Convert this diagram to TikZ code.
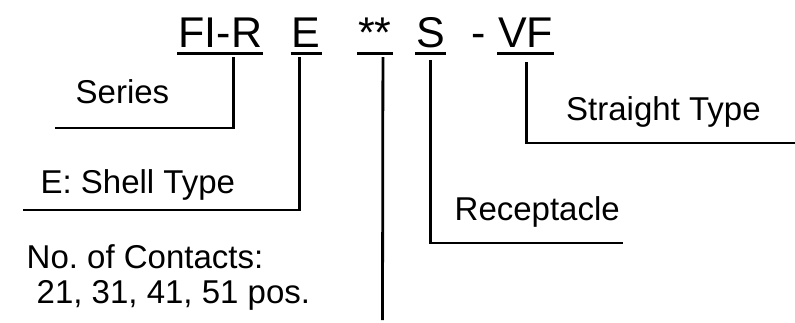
\documentclass[tikz,border=0pt]{standalone}
\usepackage{fontspec}
\setmainfont{Liberation Sans}
\usetikzlibrary{positioning}

\begin{document}
\begin{tikzpicture}[x=1pt, y=-1pt,
        code/.style={anchor=base west, inner xsep=1pt, inner ysep=0pt, text depth=0pt, font=\fontsize{43}{48}\selectfont},
        lbl/.style={anchor=base west, inner sep=0pt, align=left, font=\fontsize{33}{35}\selectfont\frenchspacing},
        uline/.style={line width=2.8pt},
        lead/.style={line width=2.8pt}]
    \useasboundingbox (0,0) rectangle (795,322);
    % part number
    \node[code] (fir) at (177.3,47) {FI-R};
    \node[code] (e) at (290.6,47) {E};
    \node[code] (num) at (357,47) {**};
    \node[code] (s) at (415,47) {S};
    \node[code] (dash) at (470,47) {-};
    \node[code] (vf) at (497,47) {VF};
    \foreach \n in {fir,e,num,s,vf}
        \draw[uline] ([yshift=-6pt]\n.south west) -- ([yshift=-6pt]\n.south east);
    % labels
    \node[lbl] (series) at (75.5,103) {Series};
    \node[lbl] (shell) at (40.4,193) {E: Shell Type};
    \node[lbl] (contacts) at (26.5,303) {No. of Contacts:\\\rule{10pt}{0pt}21, 31, 41, 51 pos.};
    \node[lbl] (recept) at (454.5,220) {Receptacle};
    \node[lbl] (straight) at (566,120) {Straight Type};
    \coordinate (seriesend) at (55,128);
    \coordinate (shellend) at (23,210);
    \coordinate (numend) at (382.5,320);
    \coordinate (receptend) at (623,243);
    \coordinate (straightend) at (795,143);
    \draw[lead] (fir.south) ++(13,10) |- (seriesend);
    \draw[lead] (e.south) ++(-6.5,10) |- (shellend);
    \draw[lead] (num.south) ++(8,10) -- (numend);
    \draw[lead] (s.south) ++(0,13) |- (receptend);
    \draw[lead] (vf.south) ++(0.5,15) |- (straightend);
\end{tikzpicture}
\end{document}
